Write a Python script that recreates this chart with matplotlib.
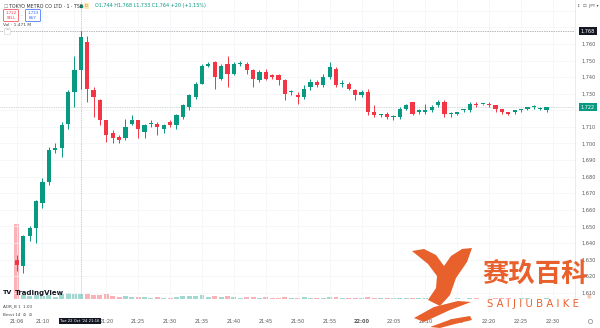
import numpy as np
import matplotlib
matplotlib.use('Agg')
import matplotlib.pyplot as plt
from matplotlib.patches import Polygon
from matplotlib.lines import Line2D

# 1-minute candles, TOKYO METRO CO LTD, first trading session (22 Oct '24 21:06 ...)
opens = [1630, 1626, 1644, 1649, 1664, 1677, 1696, 1697, 1712, 1731,
         1744, 1761, 1732, 1726, 1714, 1706, 1704, 1703, 1712, 1714,
         1707, 1712, 1712, 1709, 1713, 1711, 1716, 1722, 1728, 1736,
         1747, 1749, 1739, 1748, 1742, 1748, 1748, 1744, 1738, 1743,
         1741, 1741, 1738, 1731, 1729, 1728, 1734, 1737, 1735, 1740,
         1745, 1736, 1736, 1732, 1729, 1731, 1719, 1717, 1718, 1716,
         1716, 1721, 1725, 1719, 1719, 1720, 1723, 1725, 1718, 1718,
         1720, 1720, 1724, 1724, 1724, 1723, 1721, 1719, 1719, 1720,
         1721, 1722, 1721, 1720]
highs = [1633, 1645, 1650, 1666, 1679, 1698, 1700, 1713, 1732, 1753,
         1768, 1765, 1734, 1727, 1714, 1708, 1705, 1715, 1717, 1714,
         1712, 1714, 1713, 1712, 1714, 1718, 1724, 1730, 1737, 1748,
         1749, 1750, 1748, 1753, 1749, 1750, 1749, 1745, 1744, 1745,
         1742, 1742, 1739, 1732, 1731, 1735, 1739, 1738, 1742, 1749,
         1746, 1738, 1737, 1733, 1732, 1733, 1723, 1718, 1719, 1717,
         1722, 1724, 1725, 1721, 1724, 1723, 1726, 1726, 1719, 1719,
         1721, 1725, 1725, 1724, 1725, 1723, 1721, 1719, 1720, 1721,
         1722, 1723, 1722, 1722]
lows = [1623, 1622, 1641, 1640, 1661, 1675, 1694, 1692, 1709, 1722,
        1733, 1725, 1716, 1711, 1701, 1700, 1700, 1702, 1711, 1703,
        1703, 1710, 1705, 1706, 1710, 1709, 1715, 1720, 1727, 1736,
        1746, 1733, 1738, 1734, 1741, 1747, 1742, 1734, 1737, 1738,
        1739, 1735, 1726, 1729, 1724, 1727, 1732, 1734, 1734, 1739,
        1734, 1734, 1732, 1726, 1728, 1717, 1716, 1716, 1715, 1714,
        1715, 1720, 1717, 1718, 1718, 1719, 1722, 1716, 1716, 1717,
        1719, 1719, 1722, 1723, 1722, 1719, 1718, 1717, 1718, 1719,
        1720, 1721, 1720, 1719]
closes = [1627, 1644, 1649, 1665, 1677, 1696, 1697, 1711, 1731, 1744,
          1764, 1733, 1728, 1714, 1705, 1703, 1702, 1710, 1714, 1709,
          1711, 1712, 1710, 1711, 1711, 1717, 1723, 1729, 1736, 1747,
          1748, 1740, 1747, 1742, 1748, 1748, 1744, 1739, 1743, 1739,
          1740, 1738, 1730, 1731, 1728, 1733, 1737, 1735, 1740, 1746,
          1735, 1736, 1733, 1729, 1731, 1719, 1717, 1717, 1716, 1716,
          1721, 1723, 1718, 1720, 1720, 1722, 1725, 1718, 1718, 1719,
          1720, 1724, 1723, 1724, 1723, 1721, 1719, 1718, 1720, 1721,
          1722, 1722, 1721, 1722]
# volume, millions of shares
volumes = [22.0, 1.1, 0.9, 1.2, 1.0, 1.3, 0.6, 1.5, 1.7, 1.6,
           1.47, 1.4, 1.2, 1.3, 1.4, 1.0, 0.7, 0.9, 0.6, 0.7,
           0.5, 0.3, 0.5, 0.4, 0.4, 0.6, 0.9, 0.8, 0.9, 1.1,
           0.6, 0.9, 0.5, 0.8, 0.5, 0.3, 0.5, 0.6, 0.4, 0.5,
           0.3, 0.4, 0.7, 0.2, 0.3, 0.5, 0.4, 0.3, 0.4, 0.6,
           0.6, 0.2, 0.3, 0.4, 0.2, 0.7, 0.4, 0.2, 0.3, 0.2,
           0.4, 0.3, 0.4, 0.2, 0.2, 0.2, 0.3, 0.3, 0.1, 0.2,
           0.1, 0.3, 0.2, 0.1, 0.1, 0.2, 0.2, 0.2, 0.1, 0.2,
           0.2, 0.1, 0.1, 0.2]

price_ticks = [1610, 1620, 1630, 1640, 1650, 1660, 1670, 1680, 1690,
               1700, 1710, 1730, 1740, 1750, 1760]
time_ticks = [0, 4, 14, 19, 24, 29, 34, 39, 44, 49, 54, 59, 64, 69, 74, 79, 84]
time_labels = ['21:06', '21:10', '21:20', '21:25', '21:30', '21:35', '21:40',
               '21:45', '21:50', '21:55', '22:00', '22:05', '22:10', '22:15',
               '22:20', '22:25', '22:30']

UP = '#089981'
DOWN = '#f23645'
W, H = 600, 328


def fpos(x, y):
    # pixel (from top-left) -> figure fraction
    return x / W, 1 - y / H


fig = plt.figure(figsize=(6, 3.28), dpi=100)
fig.patch.set_facecolor('white')
ax = fig.add_axes([0, 29 / H, 575 / W, 299 / H])
axv = ax.twinx()
ax.set_zorder(axv.get_zorder() + 1)
ax.patch.set_visible(False)

idx = np.arange(len(opens))
o = np.array(opens, float)
h = np.array(highs, float)
l = np.array(lows, float)
c = np.array(closes, float)
up = c >= o
cols = np.where(up, UP, DOWN)

# volume overlay
axv.bar(idx, volumes, width=0.78, color=cols, alpha=0.38, linewidth=0)
axv.set_ylim(0, 88)
axv.axis('off')

# candles
ax.vlines(idx, l, h, colors=cols, linewidth=0.7, zorder=3)
body_lo = np.minimum(o, c)
body_h = np.maximum(np.abs(c - o), 0.6)
ax.bar(idx, body_h, bottom=body_lo, width=0.66, color=cols, linewidth=0, zorder=4)

ax.set_xlim(-2.66, 87.46)
ax.set_ylim(1606.2, 1786.5)

for p in price_ticks + [1720, 1770, 1780]:
    ax.axhline(p, color='#f3f4f7', linewidth=0.5, zorder=0)
for t in time_ticks + [9]:
    ax.axvline(t, color='#f3f4f7', linewidth=0.5, zorder=0)

# crosshair and last price line
ax.axvline(10, color='#9598a1', linewidth=0.5, linestyle=(0, (1, 1.5)), zorder=2)
ax.axhline(1768, color='#6a6d78', linewidth=0.5, linestyle=(0, (1, 1.5)), zorder=2)
ax.axhline(closes[-1], color='#a8b3b0', linewidth=0.5, linestyle=(0, (1, 1.5)), zorder=2)

ax.yaxis.tick_right()
ax.set_yticks(price_ticks)
ax.set_yticklabels(['{:,}'.format(p) for p in price_ticks])
ax.tick_params(axis='y', length=0, pad=5, labelsize=3.6, labelcolor='#555555')
ax.set_xticks(time_ticks)
ax.set_xticklabels(time_labels)
ax.tick_params(axis='x', length=0, pad=14.5, labelsize=3.6, labelcolor='#555555')
for lab in ax.get_xticklabels():
    if lab.get_text() == '22:00':
        lab.set_fontweight('bold')
for side in ['top', 'left', 'bottom']:
    ax.spines[side].set_visible(False)
ax.spines['right'].set_color('#e0e3eb')
ax.spines['right'].set_linewidth(0.5)

# axis labels: crosshair price, last price, crosshair time
x, y = fpos(588, 31)
fig.text(x, y, '1,768', fontsize=3.6, color='white', ha='center', va='center',
         bbox=dict(boxstyle='square,pad=0.35', fc='#131722', ec='none'))
x, y = fpos(588, 107)
fig.text(x, y, '{:,}'.format(closes[-1]), fontsize=3.6, color='white', ha='center',
         va='center', bbox=dict(boxstyle='square,pad=0.35', fc=UP, ec='none'))
x, y = fpos(80, 321)
fig.text(x, y, "Tue 22 Oct '24 21:16", fontsize=2.7, color='white', ha='center',
         va='center', bbox=dict(boxstyle='square,pad=0.3', fc='#131722', ec='none'))

# header
x, y = fpos(9, 6)
fig.text(x, y, 'TOKYO METRO CO LTD · 1 · TSE', fontsize=3.4, color='#333333', va='center')
x, y = fpos(4, 6)
fig.text(x, y, '☐', fontsize=3.6, color='#888888', va='center')
fig.add_artist(Line2D([81 / W], [1 - 6 / H], marker='o', ms=1.6, color=UP,
                      transform=fig.transFigure))
x, y = fpos(86.5, 6)
fig.text(x, y, 'D', fontsize=2.8, color='#b08a2a', ha='center', va='center',
         bbox=dict(boxstyle='square,pad=0.25', fc='#fbe8b8', ec='none'))
x, y = fpos(95, 6)
fig.text(x, y, 'O1,744 H1,768 L1,733 C1,764 +20 (+1.15%)', fontsize=3.5,
         color=UP, va='center')
x, y = fpos(11, 15.5)
fig.text(x, y, '1,722\nSELL', fontsize=2.8, color=DOWN, ha='center', va='center',
         linespacing=1.1,
         bbox=dict(boxstyle='round,pad=0.5,rounding_size=0.3', fc='white',
                   ec=DOWN, lw=0.5))
x, y = fpos(21.5, 15.5)
fig.text(x, y, '–', fontsize=3, color='#888888', ha='center', va='center')
x, y = fpos(33, 15.5)
fig.text(x, y, '1,723\nBUY', fontsize=2.8, color='#2962ff', ha='center', va='center',
         linespacing=1.1,
         bbox=dict(boxstyle='round,pad=0.5,rounding_size=0.3', fc='white',
                   ec='#2962ff', lw=0.5))
x, y = fpos(3, 25)
fig.text(x, y, 'Vol · 1.471 M', fontsize=3.2, color='#444444', va='center')
x, y = fpos(7.5, 31.5)
fig.text(x, y, '^', fontsize=3, color='#666666', ha='center', va='center',
         bbox=dict(boxstyle='round,pad=0.3', fc='white', ec='#cccccc', lw=0.4))
x, y = fpos(588, 6)
fig.text(x, y, '↕  ☐  JPY ▾', fontsize=3, color='#555555', ha='center', va='center')

# lower legends
x, y = fpos(3, 293)
fig.text(x, y, 'TV', fontsize=4.6, color='#131722', va='center', fontweight='bold')
x, y = fpos(15, 293)
fig.text(x, y, 'TradingView', fontsize=5.0, color='#131722', va='center',
         fontweight='bold')
x, y = fpos(3, 306)
fig.text(x, y, 'ADR_B 1  1.00', fontsize=3.0, color='#444444', va='center')
x, y = fpos(3, 315)
fig.text(x, y, 'Bmvt 14  ⊙  ⊙', fontsize=3.0, color='#444444', va='center')
fig.add_artist(Line2D([590 / W], [1 - 321 / H], marker='o', ms=3, mfc='none',
                      mec='#999999', mew=0.6, transform=fig.transFigure))

# watermark
ORANGE = '#e8602c'
x, y = fpos(535, 275)
fig.text(x, y, '赛玖百科', fontsize=19, color=ORANGE, ha='center', va='center',
         fontweight='bold', family=['Noto Sans CJK SC', 'DejaVu Sans'], zorder=10)
x, y = fpos(533, 304)
fig.text(x, y, 'S A I J I U B A I K E', fontsize=7.3, color=ORANGE, ha='center',
         va='center', zorder=10)
x, y = fpos(589, 298)
fig.text(x, y, '®', fontsize=3.5, color=ORANGE, ha='center', va='center', zorder=10)

tail = [(412, 251), (424, 249), (436, 255), (444, 266), (451, 256), (462, 249),
        (472, 248), (467, 262), (456, 278), (450, 295), (440, 306), (428, 300),
        (436, 288), (437, 276), (428, 264)]
swoosh1 = [(414, 318), (434, 307), (458, 301), (471, 302), (450, 310), (424, 322)]
swoosh2 = [(430, 327), (452, 319), (470, 316), (472, 320), (455, 324), (440, 328)]
for shape in [tail, swoosh1, swoosh2]:
    pts = [fpos(px, py) for px, py in shape]
    fig.add_artist(Polygon(pts, closed=True, transform=fig.transFigure,
                           fc=ORANGE, ec='none', zorder=10))

fig.savefig('out.png', dpi=100, facecolor='white')
